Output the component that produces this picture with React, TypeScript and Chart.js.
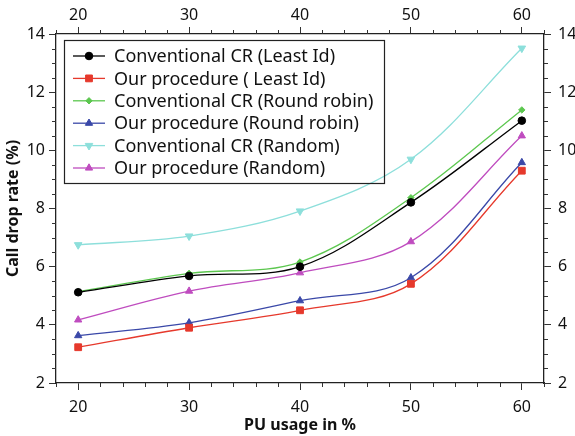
import React, { useEffect, useRef } from 'react';
import { Chart, registerables } from 'chart.js';

Chart.register(...registerables);

const puUsage = [20, 30, 40, 50, 60];
const convLeastId = [5.12, 5.68, 6.0, 8.21, 11.02];
const ourLeastId = [3.23, 3.9, 4.5, 5.41, 9.3];
const convRoundRobin = [5.14, 5.77, 6.16, 8.37, 11.39];
const ourRoundRobin = [3.63, 4.07, 4.83, 5.62, 9.58];
const convRandom = [6.75, 7.05, 7.91, 9.69, 13.51];
const ourRandom = [4.17, 5.16, 5.79, 6.86, 10.5];

const seriesLabels = [
  'Conventional CR (Least Id)',
  'Our procedure ( Least Id)',
  'Conventional CR (Round robin)',
  'Our procedure (Round robin)',
  'Conventional CR (Random)',
  'Our procedure (Random)',
];
const seriesValues = [convLeastId, ourLeastId, convRoundRobin, ourRoundRobin, convRandom, ourRandom];
const seriesColors = ['#000000', '#e6392c', '#5cc74f', '#3a48a8', '#8ddfdb', '#bf4cbf'];
const seriesStyles = ['circle', 'rect', 'rectRot', 'triangle', 'triangle', 'triangle'];
const seriesRotation = [0, 0, 0, 0, 180, 0];
const seriesRadius = [3.8, 4.8, 3.2, 4.2, 4.4, 4.2];

const xMajorTicks = [20, 30, 40, 50, 60];
const yMajorTicks = [2, 4, 6, 8, 10, 12, 14];
const xMin = 18, xMax = 62, yMin = 2, yMax = 14;

const FONT = "'Noto Sans', 'Open Sans', sans-serif";

function drawMarker(ctx: CanvasRenderingContext2D, style: string, x: number, y: number, r: number, rotDeg: number, color: string) {
  ctx.save();
  ctx.fillStyle = color;
  ctx.strokeStyle = color;
  ctx.lineWidth = 1;
  ctx.beginPath();
  if (style === 'circle') {
    ctx.arc(x, y, r, 0, Math.PI * 2);
  } else if (style === 'rect') {
    const s = Math.SQRT1_2 * r;
    ctx.rect(x - s, y - s, 2 * s, 2 * s);
  } else if (style === 'rectRot') {
    ctx.moveTo(x, y - r);
    ctx.lineTo(x + r, y);
    ctx.lineTo(x, y + r);
    ctx.lineTo(x - r, y);
    ctx.closePath();
  } else {
    let rad = (rotDeg * Math.PI) / 180;
    ctx.moveTo(x + Math.sin(rad) * r, y - Math.cos(rad) * r);
    rad += (2 * Math.PI) / 3;
    ctx.lineTo(x + Math.sin(rad) * r, y - Math.cos(rad) * r);
    rad += (2 * Math.PI) / 3;
    ctx.lineTo(x + Math.sin(rad) * r, y - Math.cos(rad) * r);
    ctx.closePath();
  }
  ctx.fill();
  ctx.stroke();
  ctx.restore();
}

const minorTicksPlugin = {
  id: 'minorTicks',
  afterDraw(chart: any) {
    const ctx = chart.ctx as CanvasRenderingContext2D;
    const { left, right, top, bottom } = chart.chartArea;
    const xs = chart.scales.x;
    const ys = chart.scales.y;
    ctx.save();
    ctx.strokeStyle = '#333';
    ctx.lineWidth = 1;
    ctx.beginPath();
    for (let v = xMin; v <= xMax + 1e-6; v += 2) {
      if (v % 10 === 0) continue;
      const px = Math.round(xs.getPixelForValue(v)) + 0.5;
      ctx.moveTo(px, bottom);
      ctx.lineTo(px, bottom + 4);
      ctx.moveTo(px, top);
      ctx.lineTo(px, top - 4);
    }
    for (let v = yMin; v <= yMax + 1e-6; v += 0.5) {
      if (Math.abs(v % 2) < 1e-6) continue;
      const py = Math.round(ys.getPixelForValue(v)) + 0.5;
      ctx.moveTo(left, py);
      ctx.lineTo(left - 4, py);
      ctx.moveTo(right, py);
      ctx.lineTo(right + 4, py);
    }
    ctx.stroke();
    ctx.restore();
  },
};

const legendBoxPlugin = {
  id: 'legendBox',
  afterDatasetsDraw(chart: any) {
    const ctx = chart.ctx as CanvasRenderingContext2D;
    const bx = 64, by = 40, bw = 320, bh = 143;
    ctx.save();
    ctx.strokeStyle = '#222';
    ctx.lineWidth = 1.2;
    ctx.strokeRect(bx + 0.5, by + 0.5, bw, bh);
    ctx.font = `18px ${FONT}`;
    ctx.textBaseline = 'middle';
    ctx.textAlign = 'left';
    for (let i = 0; i < seriesLabels.length; i++) {
      const cy = by + 16 + i * 22.4;
      ctx.strokeStyle = seriesColors[i];
      ctx.lineWidth = 1.3;
      ctx.beginPath();
      ctx.moveTo(bx + 9, cy);
      ctx.lineTo(bx + 41, cy);
      ctx.stroke();
      drawMarker(ctx, seriesStyles[i], bx + 25, cy, seriesRadius[i], seriesRotation[i], seriesColors[i]);
      ctx.fillStyle = '#111';
      ctx.fillText(seriesLabels[i], bx + 50, cy + 1);
    }
    ctx.restore();
  },
};

export default function App() {
  const canvasRef = useRef<HTMLCanvasElement | null>(null);

  useEffect(() => {
    document.body.style.margin = '0';
    const canvas = canvasRef.current;
    if (!canvas) return;

    const datasets = seriesLabels.map((label, i) => ({
      label,
      data: puUsage.map((x, j) => ({ x, y: seriesValues[i][j] })),
      borderColor: seriesColors[i],
      backgroundColor: seriesColors[i],
      borderWidth: 1.3,
      pointStyle: seriesStyles[i] as any,
      pointRotation: seriesRotation[i],
      pointRadius: seriesRadius[i],
      pointBorderWidth: 1,
      tension: 0.35,
      fill: false,
    }));

    const tickFont = { family: FONT, size: 16 };
    const titleFont = { family: FONT, size: 16, weight: 'bold' as const };
    const gridOpts = { drawOnChartArea: false, drawTicks: true, tickLength: 7, tickColor: '#333', tickWidth: 1 };
    const borderOpts = { display: true, color: '#222', width: 1.3 };

    const chart = new Chart(canvas, {
      type: 'line',
      data: { datasets },
      options: {
        animation: false,
        responsive: true,
        maintainAspectRatio: false,
        layout: { padding: 0 },
        plugins: { legend: { display: false }, tooltip: { enabled: false } },
        scales: {
          x: {
            type: 'linear',
            position: 'bottom',
            min: xMin,
            max: xMax,
            afterBuildTicks: (s: any) => { s.ticks = xMajorTicks.map((v) => ({ value: v })); },
            afterFit: (s: any) => { s.height = 53; },
            grid: gridOpts,
            border: borderOpts,
            ticks: { font: tickFont, color: '#111', padding: 8, maxRotation: 0, autoSkip: false },
            title: { display: true, text: 'PU usage in %', font: titleFont, color: '#111', padding: { top: 0, bottom: 1 } },
          },
          x2: {
            type: 'linear',
            position: 'top',
            min: xMin,
            max: xMax,
            afterBuildTicks: (s: any) => { s.ticks = xMajorTicks.map((v) => ({ value: v })); },
            afterFit: (s: any) => { s.height = 34; },
            grid: gridOpts,
            border: borderOpts,
            ticks: { font: tickFont, color: '#111', padding: 2, maxRotation: 0, autoSkip: false },
          },
          y: {
            type: 'linear',
            position: 'left',
            min: yMin,
            max: yMax,
            afterBuildTicks: (s: any) => { s.ticks = yMajorTicks.map((v) => ({ value: v })); },
            afterFit: (s: any) => { s.width = 56; },
            grid: gridOpts,
            border: borderOpts,
            ticks: { font: tickFont, color: '#111', padding: 4, autoSkip: false },
            title: { display: true, text: 'Call drop rate (%)', font: titleFont, color: '#111', padding: { top: 4, bottom: 0 } },
          },
          y2: {
            type: 'linear',
            position: 'right',
            min: yMin,
            max: yMax,
            afterBuildTicks: (s: any) => { s.ticks = yMajorTicks.map((v) => ({ value: v })); },
            afterFit: (s: any) => { s.width = 31; },
            grid: gridOpts,
            border: borderOpts,
            ticks: { font: tickFont, color: '#111', padding: 7, autoSkip: false },
          },
        },
      },
      plugins: [minorTicksPlugin, legendBoxPlugin],
    });

    return () => { chart.destroy(); };
  }, []);

  return (
    <div style={{ position: 'relative', width: 575, height: 436 }}>
      <canvas ref={canvasRef} />
    </div>
  );
}
